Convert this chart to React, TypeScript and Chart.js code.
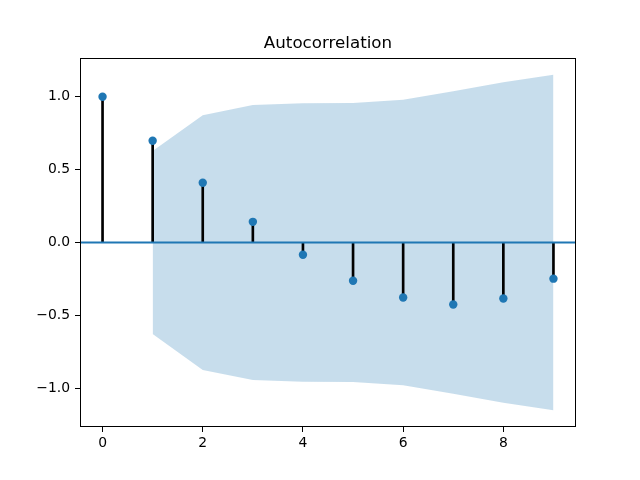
import React, { useEffect, useRef } from "react";
import { Chart, registerables } from "chart.js";

Chart.register(...registerables);

const LAGS = [0, 1, 2, 3, 4, 5, 6, 7, 8, 9];
const ACF = [1.0, 0.698, 0.41, 0.142, -0.084, -0.262, -0.377, -0.425, -0.384, -0.248];
const CONF_LAGS = [1, 2, 3, 4, 5, 6, 7, 8, 9];
const CONF_HALF = [0.628, 0.874, 0.944, 0.955, 0.958, 0.98, 1.038, 1.1, 1.151];
const X_TICKS = [0, 2, 4, 6, 8];
const Y_TICKS = [-1.0, -0.5, 0.0, 0.5, 1.0];
const X_MIN = -0.45;
const X_MAX = 9.45;
const Y_MIN = -1.266;
const Y_MAX = 1.266;
const TITLE = "Autocorrelation";

const BLUE = "#1f77b4";
const FONT = "'DejaVu Sans', sans-serif";

const spines = {
  id: "spines",
  afterDraw(chart: any) {
    const { ctx, chartArea } = chart;
    ctx.save();
    ctx.strokeStyle = "#000";
    ctx.lineWidth = 1;
    ctx.strokeRect(
      Math.round(chartArea.left) + 0.5,
      Math.round(chartArea.top) + 0.5,
      Math.round(chartArea.right - chartArea.left) - 1,
      Math.round(chartArea.bottom - chartArea.top) - 1
    );
    ctx.restore();
  },
};

export default function App() {
  const ref = useRef<HTMLCanvasElement | null>(null);
  useEffect(() => {
    if (!ref.current) return;
    const fmt = (v: number) => v.toFixed(1).replace("-", "\u2212");
    const chart = new Chart(ref.current, {
      type: "line",
      data: {
        datasets: [
          {
            type: "line",
            data: CONF_LAGS.map((l, i) => ({ x: l, y: CONF_HALF[i] })),
            fill: "+1",
            backgroundColor: "rgba(31,119,180,0.25)",
            borderWidth: 0,
            pointRadius: 0,
            tension: 0,
            order: 5,
          },
          {
            type: "line",
            data: CONF_LAGS.map((l, i) => ({ x: l, y: -CONF_HALF[i] })),
            fill: false,
            borderWidth: 0,
            pointRadius: 0,
            tension: 0,
            order: 6,
          },
          {
            type: "bar",
            data: LAGS.map((l, i) => ({ x: l, y: [0, ACF[i]] })) as any,
            backgroundColor: "#000",
            borderWidth: 0,
            barThickness: 2,
            order: 3,
          } as any,
          {
            type: "line",
            data: [
              { x: X_MIN, y: 0 },
              { x: X_MAX, y: 0 },
            ],
            borderColor: BLUE,
            borderWidth: 2,
            pointRadius: 0,
            fill: false,
            order: 2,
          },
          {
            type: "line",
            data: LAGS.map((l, i) => ({ x: l, y: ACF[i] })),
            showLine: false,
            pointRadius: 4.2,
            pointBackgroundColor: BLUE,
            pointBorderWidth: 0,
            borderColor: BLUE,
            order: 1,
          },
        ],
      },
      options: {
        animation: false,
        responsive: false,
        devicePixelRatio: 1,
        layout: { padding: { left: 0, right: 64, top: 0, bottom: 0 } },
        plugins: {
          legend: { display: false },
          tooltip: { enabled: false },
          title: {
            display: true,
            text: TITLE,
            fullSize: false,
            color: "#000",
            font: { family: FONT, size: 16.7, weight: "normal", lineHeight: 1.2 },
            padding: { top: 34, bottom: 4 },
          },
        },
        scales: {
          x: {
            type: "linear",
            min: X_MIN,
            max: X_MAX,
            offset: false,
            afterBuildTicks: (s: any) => {
              s.ticks = X_TICKS.map((v) => ({ value: v }));
            },
            afterFit: (s: any) => {
              s.height = 53;
            },
            grid: {
              drawOnChartArea: false,
              drawTicks: true,
              tickLength: 5,
              color: "#000",
              lineWidth: 1,
              offset: false,
            },
            border: { display: false },
            ticks: {
              color: "#000",
              font: { family: FONT, size: 13.9 },
              padding: 3,
              maxRotation: 0,
              autoSkip: false,
              callback: (v: any) => String(v),
            },
          },
          y: {
            type: "linear",
            min: Y_MIN,
            max: Y_MAX,
            afterBuildTicks: (s: any) => {
              s.ticks = Y_TICKS.map((v) => ({ value: v }));
            },
            afterFit: (s: any) => {
              s.width = 80;
            },
            grid: {
              drawOnChartArea: false,
              drawTicks: true,
              tickLength: 5,
              color: "#000",
              lineWidth: 1,
            },
            border: { display: false },
            ticks: {
              color: "#000",
              font: { family: FONT, size: 13.9 },
              padding: 5,
              autoSkip: false,
              callback: (v: any) => fmt(Number(v)),
            },
          },
        },
      },
      plugins: [spines],
    } as any);
    return () => chart.destroy();
  }, []);
  return (
    <div style={{ position: "fixed", left: 0, top: 0, width: 640, height: 480, background: "#fff" }}>
      <canvas ref={ref} width={640} height={480} />
    </div>
  );
}
